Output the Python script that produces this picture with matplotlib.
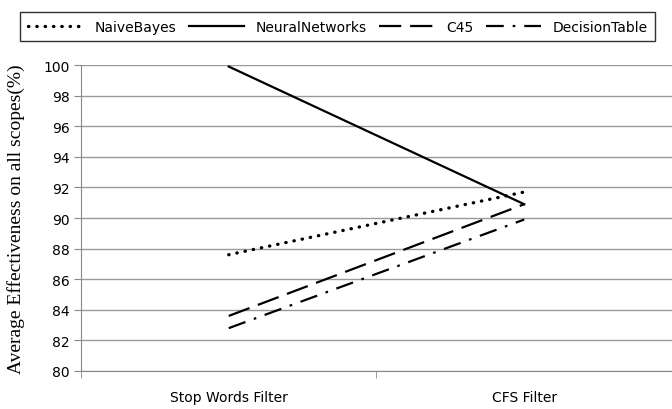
import matplotlib.pyplot as plt

categories = ["Stop Words Filter", "CFS Filter"]
naive_bayes = [87.6, 91.7]
neural_networks = [99.9, 90.9]
c45 = [83.6, 90.9]
decision_table = [82.8, 89.9]

fig = plt.figure(figsize=(6.72, 4.10), dpi=100)
ax = fig.add_axes([0.1205, 0.0927, 0.8795, 0.7463])

x = [0, 1]
ax.plot(x, naive_bayes, color="black", lw=2.4, linestyle=(0, (0.1, 2.4)), dash_capstyle="round", label="NaiveBayes")
ax.plot(x, neural_networks, color="black", lw=1.6, linestyle="-", label="NeuralNetworks")
ax.plot(x, c45, color="black", lw=1.6, linestyle=(0, (10, 4)), label="C45")
ax.plot(x, decision_table, color="black", lw=1.6, linestyle=(0, (8, 4, 1.2, 4)), label="DecisionTable")

ax.set_xlim(-0.5, 1.5)
ax.set_ylim(80, 100)
ax.set_yticks(range(80, 101, 2))
ax.set_xticks(x)
ax.set_xticklabels(categories, fontsize=10, family="DejaVu Sans")
ax.set_xticks([-0.5, 0.5, 1.5], minor=True)
ax.tick_params(axis="x", which="major", length=0, pad=14)
ax.tick_params(axis="x", which="minor", length=5, color="#888888", direction="out")
ax.tick_params(axis="y", length=5, color="#888888", labelsize=10, pad=3)
for lbl in ax.get_yticklabels():
    lbl.set_family("DejaVu Sans")

ax.grid(axis="y", color="#999999", lw=1)
ax.set_axisbelow(True)
for s in ["top", "right"]:
    ax.spines[s].set_visible(False)
for s in ["left", "bottom"]:
    ax.spines[s].set_color("#888888")

ax.set_ylabel("Average Effectiveness on all scopes(%)", family="Liberation Serif", fontsize=14)
ax.yaxis.set_label_coords(-0.094, 0.5)

leg = fig.legend(loc="upper left", bbox_to_anchor=(0.02, 0.985), ncol=4, frameon=True, fancybox=False,
                 edgecolor="black", fontsize=10, handlelength=4.0, columnspacing=0.9, handletextpad=0.8,
                 borderpad=0.55)
leg.get_frame().set_linewidth(1.0)

fig.savefig("out.png", dpi=100)
